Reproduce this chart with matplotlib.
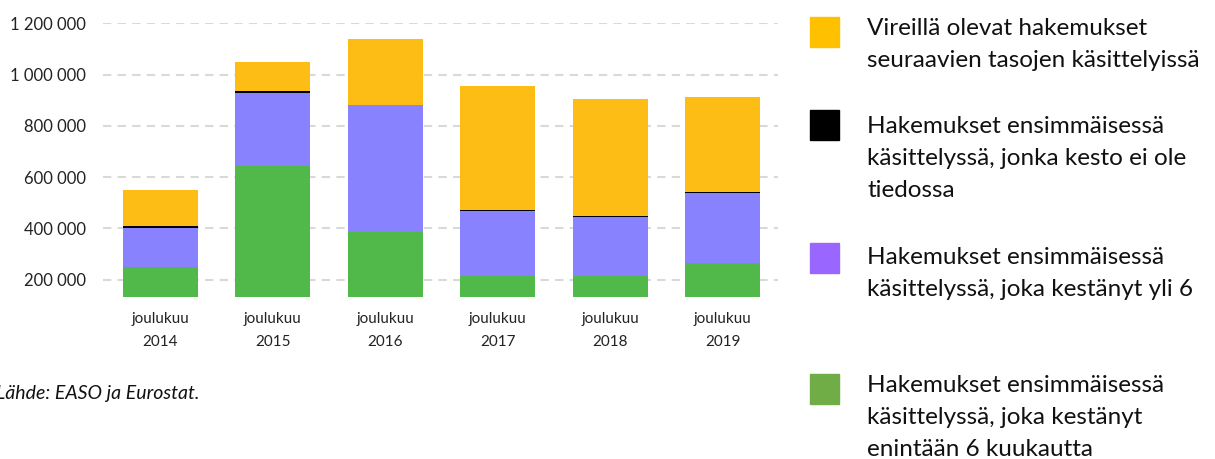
import matplotlib.pyplot as plt
from matplotlib.patches import Rectangle

# data
years = ['2014', '2015', '2016', '2017', '2018', '2019']
tick_labels = ['joulukuu\n' + y for y in years]
enintaan_6kk = [250000, 645000, 385000, 213000, 213000, 264000]
yli_6kk = [152000, 282000, 495000, 256000, 233000, 274000]
ei_tiedossa = [8000, 9000, 1500, 2500, 2500, 2500]
vireilla = [141000, 113000, 257000, 483000, 458000, 372000]

legend_labels = [
    'Vireillä olevat hakemukset\nseuraavien tasojen käsittelyissä',
    'Hakemukset ensimmäisessä\nkäsittelyssä, jonka kesto ei ole\ntiedossa',
    'Hakemukset ensimmäisessä\nkäsittelyssä, joka kestänyt yli 6',
    'Hakemukset ensimmäisessä\nkäsittelyssä, joka kestänyt\nenintään 6 kuukautta',
]
legend_colors = ['#FFC000', '#000000', '#9966FF', '#70AD47']
bar_colors = ['#51B84A', '#8882FE', '#000000', '#FDBD14']

plt.rcParams['font.family'] = ['Lato', 'DejaVu Sans']

fig = plt.figure(figsize=(12.15, 4.59), dpi=100)
ax = fig.add_axes([0.0848, 0.3536, 0.5555, 0.5956])

x = range(len(years))
bottom = [0] * len(years)
for vals, col in zip([enintaan_6kk, yli_6kk, ei_tiedossa, vireilla], bar_colors):
    ax.bar(x, vals, bottom=bottom, width=0.667, color=col, zorder=3)
    bottom = [b + v for b, v in zip(bottom, vals)]

ax.set_xlim(-0.51, 5.49)
ax.set_ylim(133700, 1200000)
ax.set_yticks([200000, 400000, 600000, 800000, 1000000, 1200000])
ax.set_yticklabels(['200 000', '400 000', '600 000', '800 000', '1 000 000', '1 200 000'],
                   fontsize=12, color='#222222')
ax.set_xticks(list(x))
ax.set_xticklabels(tick_labels, fontsize=11, color='#222222', linespacing=1.85)
ax.tick_params(length=0, axis='y', pad=12)
ax.tick_params(length=0, axis='x', pad=11)
for s in ax.spines.values():
    s.set_visible(False)
ax.grid(axis='y', color='#d9d9d9', linestyle=(0, (4, 3)), linewidth=1.5, zorder=0)
ax.set_axisbelow(True)

fig.text(-0.003, 1 - 393 / 459, 'Lähde: EASO ja Eurostat.', fontsize=14, style='italic',
         va='center', ha='left', color='#111111')

# legend drawn by hand
sq_tops = [17, 110, 243, 374]
txt_tops = [18, 116, 247, 375]
for lab, col, sq, tt in zip(legend_labels, legend_colors, sq_tops, txt_tops):
    fig.patches.append(Rectangle((810 / 1215, 1 - (sq + 30) / 459), 29 / 1215, 30 / 459,
                                 transform=fig.transFigure, color=col))
    fig.text(867 / 1215, 1 - tt / 459, lab, fontsize=17.5, va='top', ha='left',
             linespacing=1.66, color='#111111')

fig.savefig('out.png', dpi=100)
